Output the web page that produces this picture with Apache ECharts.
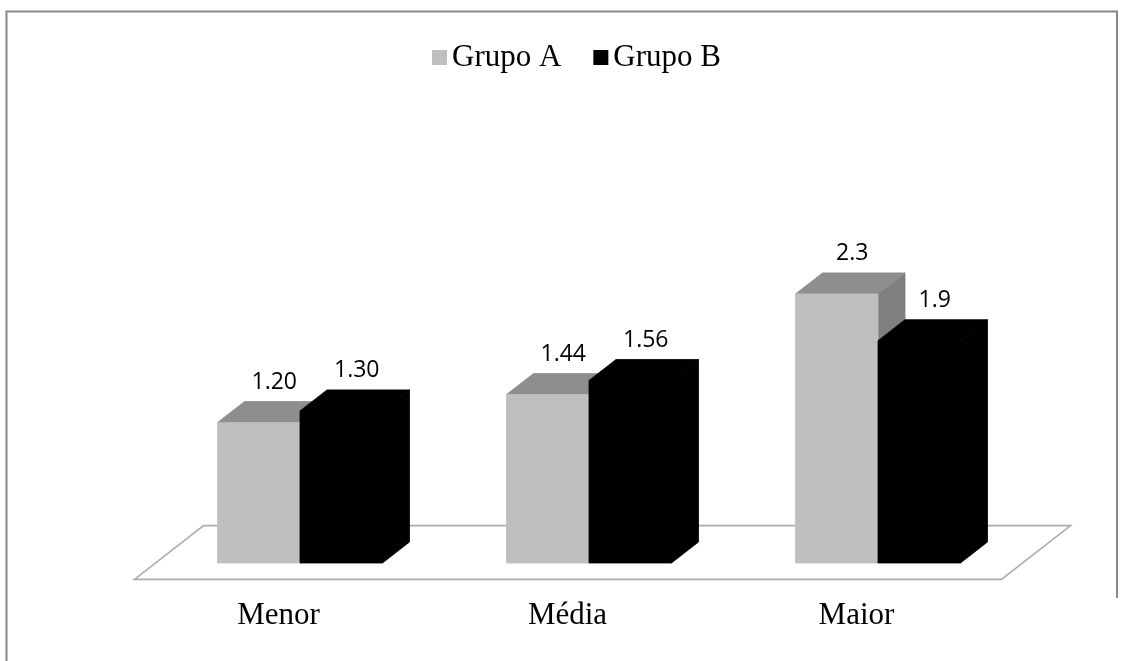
<!DOCTYPE html>
<html>
<head>
<meta charset="utf-8">
<script src="https://cdn.jsdelivr.net/npm/echarts@6/dist/echarts.min.js"></script>
<style>
  html, body { margin: 0; padding: 0; background: #ffffff; }
  #chart { width: 1123px; height: 661px; }
</style>
</head>
<body>
<div id="chart"></div>
<script>
// Categories and the two groups' values
const categories = ['Menor', 'Média', 'Maior'];
const seriesNames = ['Grupo A', 'Grupo B'];
const grupoA = [1.20, 1.44, 2.3];
const grupoB = [1.30, 1.56, 1.9];
// Value labels as printed above each bar
const labelsA = ['1.20', '1.44', '2.3'];
const labelsB = ['1.30', '1.56', '1.9'];

// Pseudo-3D geometry: depth offset of a bar (right and up)
const DEPTH_DX = 27;
const DEPTH_DY = -21;
const BAR_FRACTION = 0.2855;   // front-face width as a share of the category band
const FLOOR_FRONT = 0.78;      // floor margin in front of / behind the bars, in bar depths

const faces = [
  { front: '#BFBFBF', top: '#8E8E8E', side: '#7F7F7F' },
  { front: '#000000', top: '#000000', side: '#000000' }
];

function face(points, color) {
  // stroke with the fill colour so adjacent faces join without seams
  return { type: 'polygon', shape: { points: points },
           style: { fill: color, stroke: color, lineWidth: 0.8 } };
}

function barRenderer(groupIndex, labels) {
  return function (params, api) {
    const cat = api.value(0);
    const val = api.value(1);
    const top = api.coord([cat, val]);
    const base = api.coord([cat, 0]);
    const band = api.size([1, 0])[0];
    const w = band * BAR_FRACTION;
    const x0 = groupIndex === 0 ? top[0] - w : top[0];
    const x1 = x0 + w;
    const yT = top[1];
    const yB = base[1];
    const c = faces[groupIndex];
    const dx = DEPTH_DX, dy = DEPTH_DY;
    return {
      type: 'group',
      children: [
        face([[x1, yT], [x1 + dx, yT + dy], [x1 + dx, yB + dy], [x1, yB]], c.side),
        face([[x0, yT], [x0 + dx, yT + dy], [x1 + dx, yT + dy], [x1, yT]], c.top),
        face([[x0, yT], [x1, yT], [x1, yB], [x0, yB]], c.front),
        { type: 'text', x: (x0 + x1) / 2 + dx / 2 + 2, y: yT + dy - 19,
          style: { text: labels[params.dataIndex], fill: '#000', font: '23px "Open Sans"',
                   align: 'center', verticalAlign: 'middle' } }
      ]
    };
  };
}

function floorRenderer(params, api) {
  const first = api.coord([0, 0]);
  const last = api.coord([categories.length - 1, 0]);
  const band = api.size([1, 0])[0];
  const xl = first[0] - band / 2;
  const xr = last[0] + band / 2;
  const y = first[1];
  const fx = -FLOOR_FRONT * DEPTH_DX, fy = -FLOOR_FRONT * DEPTH_DY;
  const bx = (1 + FLOOR_FRONT) * DEPTH_DX, by = (1 + FLOOR_FRONT) * DEPTH_DY;
  return {
    type: 'polygon',
    shape: { points: [[xl + fx, y + fy], [xr + fx, y + fy], [xr + bx, y + by], [xl + bx, y + by]] },
    style: { fill: '#ffffff', stroke: '#ADADAD', lineWidth: 1.6 }
  };
}

const chart = echarts.init(document.getElementById('chart'), null, { renderer: 'canvas' });

chart.setOption({
  backgroundColor: '#ffffff',
  animation: false,
  graphic: [
    { type: 'polyline', shape: { points: [[6.5, 661], [6.5, 11.5], [1117, 11.5], [1117, 598]] },
      style: { fill: 'none', stroke: '#888888', lineWidth: 2 }, z: 100 }
  ],
  legend: {
    data: seriesNames,
    left: 427,
    top: 37,
    itemWidth: 15,
    itemHeight: 15,
    itemGap: 32,
    icon: 'rect',
    textStyle: { fontFamily: '"Liberation Serif", "Times New Roman", serif', fontSize: 31, color: '#000', lineHeight: 31 }
  },
  grid: { left: 155.5, right: 100.5, top: 212, bottom: 98, containLabel: false },
  xAxis: {
    type: 'category',
    data: categories,
    axisLine: { show: false },
    axisTick: { show: false },
    splitLine: { show: false },
    axisLabel: {
      margin: 37,
      padding: [0, 43, 0, 0],
      fontFamily: '"Liberation Serif", "Times New Roman", serif',
      fontSize: 31,
      lineHeight: 31,
      color: '#000'
    }
  },
  yAxis: { type: 'value', min: 0, max: 3, show: false, splitLine: { show: false } },
  series: [
    { name: 'floor', type: 'custom', data: [[0, 0]], renderItem: floorRenderer, z: 1, silent: true },
    { name: seriesNames[0], type: 'custom', itemStyle: { color: faces[0].front },
      data: grupoA.map((v, i) => [i, v]), renderItem: barRenderer(0, labelsA), z: 2 },
    { name: seriesNames[1], type: 'custom', itemStyle: { color: faces[1].front },
      data: grupoB.map((v, i) => [i, v]), renderItem: barRenderer(1, labelsB), z: 3 }
  ]
});
</script>
</body>
</html>
